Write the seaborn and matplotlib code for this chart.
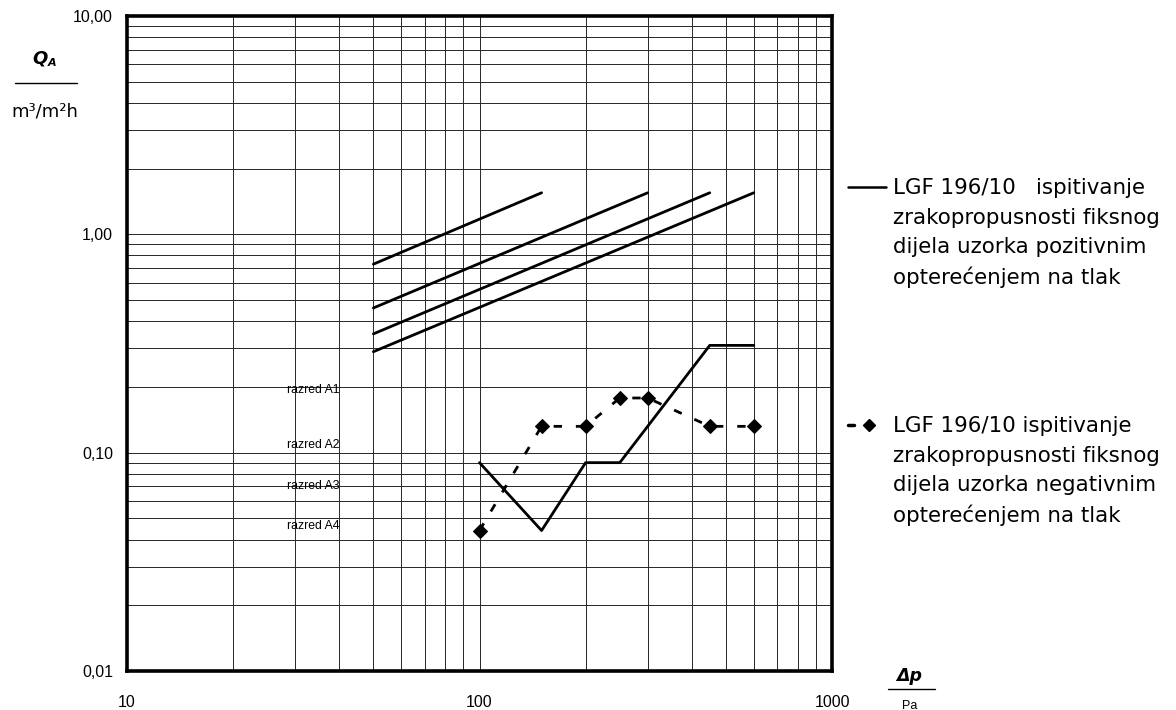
import numpy as np
import pandas as pd
import matplotlib
matplotlib.use("Agg")
import matplotlib.pyplot as plt
from matplotlib.lines import Line2D
from matplotlib.ticker import FixedLocator, LogLocator, NullFormatter
import seaborn as sns

# Class limit lines (air permeability classes), start and end points
class_names = ["A1", "A2", "A3", "A4"]
class_p = [[50, 150], [50, 300], [50, 450], [50, 600]]
class_q = [[0.73, 1.55], [0.46, 1.55], [0.35, 1.55], [0.29, 1.55]]

# Measured air permeability, positive pressure
pos_p = [100, 150, 200, 250, 450, 600]
pos_q = [0.09, 0.044, 0.09, 0.09, 0.31, 0.31]

# Measured air permeability, negative pressure
neg_p = [100, 150, 200, 250, 300, 450, 600]
neg_q = [0.044, 0.132, 0.132, 0.178, 0.178, 0.132, 0.132]

# Class labels on the left side of the grid
razred_labels = ["razred A1", "razred A2", "razred A3", "razred A4"]
razred_q = [0.194, 0.108, 0.070, 0.046]

x_ticks = [10, 100, 1000]
x_ticklabels = ["10", "100", "1000"]
y_ticks = [0.01, 0.1, 1, 10]
y_ticklabels = ["0,01", "0,10", "1,00", "10,00"]

legend_pos = ["LGF 196/10   ispitivanje", "zrakopropusnosti fiksnog",
              "dijela uzorka pozitivnim", "opterećenjem na tlak"]
legend_neg = ["LGF 196/10 ispitivanje", "zrakopropusnosti fiksnog",
              "dijela uzorka negativnim", "opterećenjem na tlak"]

sns.set_style("white")
plt.rcParams["font.family"] = ["DejaVu Sans"]
plt.rcParams["text.color"] = "black"
plt.rcParams["xtick.color"] = "black"
plt.rcParams["ytick.color"] = "black"

W, H = 1176, 710
fig = plt.figure(figsize=(W / 100, H / 100), dpi=100)
ax = fig.add_axes([127 / W, 1 - 671 / H, (832 - 127) / W, (671 - 16) / H])

class_df = pd.DataFrame({
    "p": [p for ps in class_p for p in ps],
    "q": [q for qs in class_q for q in qs],
    "cls": [c for c, ps in zip(class_names, class_p) for _ in ps],
})
pos_df = pd.DataFrame({"p": pos_p, "q": pos_q})
neg_df = pd.DataFrame({"p": neg_p, "q": neg_q})

ax.set_xscale("log")
ax.set_yscale("log")

sns.lineplot(data=class_df, x="p", y="q", units="cls", estimator=None,
             color="black", lw=2.0, ax=ax, legend=False, sort=False)
sns.lineplot(data=pos_df, x="p", y="q", color="black", lw=2.0, ax=ax,
             sort=False, estimator=None)
sns.lineplot(data=neg_df, x="p", y="q", color="black", lw=2.0, ax=ax,
             sort=False, estimator=None, marker="D", markersize=7,
             markeredgecolor="black", dashes=False, linestyle=(0, (3, 5)))

for lab, q in zip(razred_labels, razred_q):
    ax.text(40, q, lab, ha="right", va="center", fontsize=8.8,
            family=["Liberation Sans Narrow", "Liberation Sans"], color="black")

ax.set_xlim(10, 1000)
ax.set_ylim(0.01, 10)
ax.xaxis.set_major_locator(FixedLocator(x_ticks))
ax.yaxis.set_major_locator(FixedLocator(y_ticks))
ax.set_xticklabels(x_ticklabels, family=["Liberation Sans"], fontsize=11.5)
ax.set_yticklabels(y_ticklabels, family=["Liberation Sans"], fontsize=11.5)
ax.xaxis.set_minor_locator(LogLocator(base=10, subs=np.arange(2, 10)))
ax.yaxis.set_minor_locator(LogLocator(base=10, subs=np.arange(2, 10)))
ax.xaxis.set_minor_formatter(NullFormatter())
ax.yaxis.set_minor_formatter(NullFormatter())
ax.tick_params(axis="x", which="major", length=0, pad=17)
ax.tick_params(axis="y", which="major", length=3, width=1, pad=7, color="#555")
ax.tick_params(which="minor", length=0)
ax.grid(True, which="both", color="#262626", lw=0.7)
ax.set_axisbelow(True)
for s in ax.spines.values():
    s.set_color("black")
    s.set_linewidth(2.6)
ax.set_xlabel("")
ax.set_ylabel("")


def fx(x):
    return x / W


def fy(y):
    return 1 - y / H


# y-axis quantity label
fig.text(fx(40), fy(58), "Q", fontsize=13, fontweight="bold", style="italic",
         ha="center", va="center")
fig.text(fx(52), fy(63), "A", fontsize=8, fontweight="bold", style="italic",
         ha="center", va="center")
fig.add_artist(Line2D([fx(15), fx(77)], [fy(83), fy(83)], color="black", lw=1.0))
fig.text(fx(45), fy(112), "m³/m²h", fontsize=13, ha="center", va="center")

# x-axis quantity label
fig.text(fx(909), fy(676), "Δp", fontsize=12.5, fontweight="bold",
         style="italic", ha="center", va="center")
fig.add_artist(Line2D([fx(888), fx(935)], [fy(689), fy(689)], color="black", lw=1.0))
fig.text(fx(910), fy(706), "Pa", fontsize=9, ha="center", va="center",
         family=["Liberation Sans"])

# legend entries
line_gap = 29.7
fig.add_artist(Line2D([fx(848), fx(886)], [fy(187), fy(187)], color="black", lw=1.8))
for i, t in enumerate(legend_pos):
    fig.text(fx(893), fy(188 + i * line_gap), t, fontsize=15.4,
             ha="left", va="center")

fig.add_artist(Line2D([fx(848), fx(854)], [fy(425), fy(425)], color="black", lw=2.5))
fig.add_artist(Line2D([fx(869)], [fy(425)], color="black", marker="D",
                      markersize=6, lw=0))
for i, t in enumerate(legend_neg):
    fig.text(fx(893), fy(426 + i * line_gap), t, fontsize=15.4,
             ha="left", va="center")

fig.savefig("out.png", dpi=100, facecolor="white")
